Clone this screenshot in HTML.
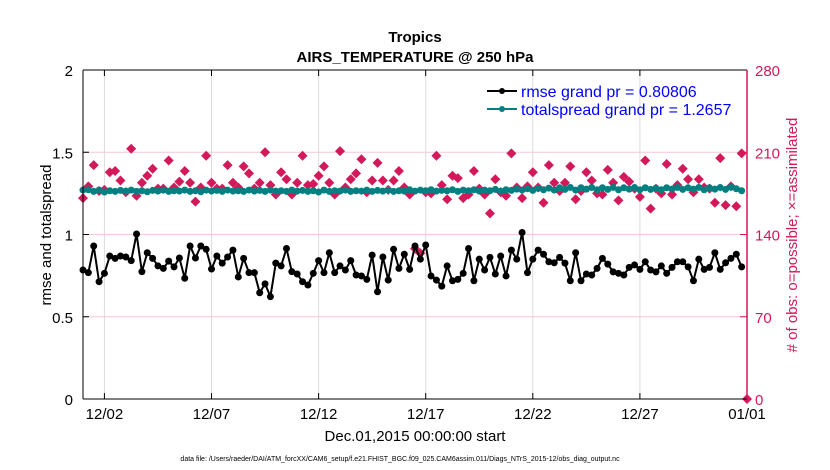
<!DOCTYPE html>
<html><head><meta charset="utf-8"><style>
body{margin:0;background:#fff;}
svg{display:block;font-family:"Liberation Sans",sans-serif;}
</style></head><body>
<svg id="chart" width="830" height="470" viewBox="0 0 830 470">
<rect width="830" height="470" fill="#fff"/>
<text x="415" y="42" text-anchor="middle" font-size="15" font-weight="bold">Tropics</text>
<text x="415" y="62" text-anchor="middle" font-size="15" font-weight="bold">AIRS_TEMPERATURE @ 250 hPa</text>
<g id="grid"></g>
<g id="marks"></g>
<g id="axes"></g>
<text transform="translate(51,235) rotate(-90)" text-anchor="middle" font-size="15">rmse and totalspread</text>
<text transform="translate(797,235) rotate(-90)" text-anchor="middle" font-size="15" fill="#d3195a"># of obs: o=possible; ×=assimilated</text>
<text x="415" y="441" text-anchor="middle" font-size="15">Dec.01,2015 00:00:00 start</text>
<text x="400" y="461" text-anchor="middle" font-size="7">data file: /Users/raeder/DAI/ATM_forcXX/CAM6_setup/f.e21.FHIST_BGC.f09_025.CAM6assim.011/Diags_NTrS_2015-12/obs_diag_output.nc</text>
<g>
<line x1="487" y1="91" x2="517" y2="91" stroke="#000" stroke-width="2"/>
<circle cx="502" cy="91" r="3" fill="#000"/>
<text x="521" y="97" font-size="16" fill="#0000ff">rmse grand pr = 0.80806</text>
<line x1="487" y1="109" x2="517" y2="109" stroke="#008080" stroke-width="2"/>
<circle cx="502" cy="109" r="3" fill="#008080"/>
<text x="521" y="115" font-size="16" fill="#0000ff">totalspread grand pr = 1.2657</text>
</g>
</svg>
<script>
const rmse=[0.784,0.768,0.930,0.713,0.764,0.869,0.855,0.869,0.863,0.841,1.003,0.774,0.889,0.855,0.809,0.794,0.838,0.803,0.857,0.734,0.930,0.857,0.930,0.910,0.790,0.869,0.826,0.863,0.905,0.742,0.855,0.768,0.768,0.646,0.700,0.622,0.826,0.809,0.915,0.774,0.760,0.713,0.693,0.764,0.841,0.768,0.889,0.768,0.809,0.784,0.841,0.754,0.748,0.727,0.875,0.652,0.863,0.723,0.910,0.794,0.880,0.788,0.930,0.850,0.936,0.748,0.723,0.686,0.809,0.719,0.727,0.764,0.915,0.719,0.850,0.784,0.861,0.760,0.869,0.748,0.905,0.850,1.012,0.768,0.850,0.905,0.880,0.834,0.828,0.861,0.826,0.719,0.889,0.719,0.760,0.754,0.794,0.855,0.820,0.773,0.764,0.754,0.800,0.815,0.788,0.834,0.784,0.773,0.809,0.764,0.800,0.834,0.834,0.803,0.719,0.850,0.788,0.800,0.889,0.788,0.828,0.855,0.880,0.803];
const spread=[1.270,1.272,1.262,1.270,1.258,1.266,1.262,1.268,1.264,1.270,1.262,1.266,1.260,1.268,1.264,1.270,1.262,1.266,1.264,1.270,1.262,1.266,1.260,1.270,1.264,1.268,1.262,1.270,1.264,1.266,1.262,1.270,1.264,1.268,1.262,1.270,1.264,1.266,1.262,1.270,1.264,1.268,1.262,1.266,1.258,1.270,1.262,1.266,1.264,1.270,1.262,1.266,1.264,1.270,1.262,1.268,1.264,1.270,1.262,1.266,1.264,1.272,1.264,1.270,1.266,1.272,1.264,1.268,1.266,1.272,1.262,1.270,1.266,1.272,1.264,1.270,1.266,1.274,1.264,1.272,1.268,1.276,1.270,1.278,1.268,1.280,1.272,1.282,1.270,1.284,1.274,1.286,1.270,1.284,1.276,1.286,1.272,1.284,1.274,1.286,1.272,1.284,1.276,1.286,1.272,1.284,1.274,1.282,1.272,1.284,1.276,1.286,1.274,1.284,1.276,1.286,1.272,1.284,1.276,1.286,1.274,1.288,1.278,1.266];
const obsCount=[171,181,199,177,178,193,194,186,176,213,173,184,190,196,179,179,203,180,185,194,184,168,180,207,184,179,179,199,184,180,198,192,179,184,210,182,174,193,187,174,184,207,182,183,190,198,184,174,211,180,187,192,204,176,186,201,186,178,186,194,180,174,128,124,176,175,207,182,170,190,188,171,174,194,179,174,158,187,176,173,209,180,171,181,193,180,167,199,184,177,184,198,170,177,193,186,175,174,195,184,169,189,185,179,172,203,162,179,175,200,174,182,196,187,176,187,180,179,167,205,165,181,164,209,0];
const xTickDays=[1,6,11,16,21,26,31];
const xTickLabels=["12/02","12/07","12/12","12/17","12/22","12/27","01/01"];
const yTicks=[0,0.5,1,1.5,2];
const yTickLabels=["0","0.5","1","1.5","2"];
const rTicks=[0,70,140,210,280];
const rTickLabels=["0","70","140","210","280"];
const stepDays=0.25;

const L=83,R=747,T=70,B=399;
const xS=d=>L+(d-0)/(31-0)*(R-L);
const yS=v=>B-(v-0)/(2-0)*(B-T);
const rS=v=>B-(v-0)/(280-0)*(B-T);
const NS="http://www.w3.org/2000/svg";
function mk(tag,attrs,parent){const e=document.createElementNS(NS,tag);for(const k in attrs)e.setAttribute(k,attrs[k]);parent.appendChild(e);return e;}
const grid=document.getElementById('grid'),marks=document.getElementById('marks'),axes=document.getElementById('axes');

xTickDays.forEach((d,i)=>{
  const g=mk('line',{x1:xS(d),x2:xS(d),y1:T,y2:B,stroke:'#dcdcdc','stroke-width':1},grid);
  
  
  const t=mk('text',{x:xS(d),y:B+20,'text-anchor':'middle','font-size':15},axes);t.textContent=xTickLabels[i];
  
  
  const tk=mk('line',{x1:xS(d),x2:xS(d),y1:B,y2:B-6,stroke:'#000'},axes);
  
  
  const tt=mk('line',{x1:xS(d),x2:xS(d),y1:T,y2:T+6,stroke:'#000'},axes);
  
  
});
yTicks.forEach((v,i)=>{
  if(v>0&&v<2){const g=mk('line',{x1:L,x2:R,y1:yS(v),y2:yS(v),stroke:'#f4c8d6','stroke-width':1},grid);
  
  }
  const t=mk('text',{x:L-10,y:yS(v)+6,'text-anchor':'end','font-size':15},axes);t.textContent=yTickLabels[i];
  
  
  const tk=mk('line',{x1:L,x2:L+6,y1:yS(v),y2:yS(v),stroke:'#000'},axes);
  
  
});
rTicks.forEach((v,i)=>{
  const t=mk('text',{x:R+8,y:rS(v)+6,'font-size':15,fill:'#d3195a'},axes);t.textContent=rTickLabels[i];
  
  
  const tk=mk('line',{x1:R,x2:R-7,y1:rS(v),y2:rS(v),stroke:'#d3195a'},axes);
  
  
});
const ax=mk('path',{d:`M${L},${T}H${R}M${L},${B}H${R}M${L},${T}V${B}`,stroke:'#000',fill:'none','stroke-width':1},axes);


const ra=mk('line',{x1:R,x2:R,y1:T,y2:B,stroke:'#d3195a','stroke-width':1.5},axes);



obsCount.forEach((c,i)=>{
  const x=xS(i*stepDays),y=rS(c),s=5;
  const p=mk('path',{d:`M${x},${y-s}L${x+s},${y}L${x},${y+s}L${x-s},${y}Z`,fill:'#d3195a'},marks);
  
  
});
function series(vals,color,name){
  const d=vals.map((v,i)=>(i?'L':'M')+xS(i*stepDays)+','+yS(v)).join('');
  const l=mk('path',{d,stroke:color,'stroke-width':2,fill:'none'},marks);
  
  
  vals.forEach((v,i)=>{
    const c=mk('circle',{cx:xS(i*stepDays),cy:yS(v),r:3.5,fill:color},marks);
    
    
  });
}
series(spread,'#008080','totalspread');
series(rmse,'#000000','rmse');
</script>
</body></html>
